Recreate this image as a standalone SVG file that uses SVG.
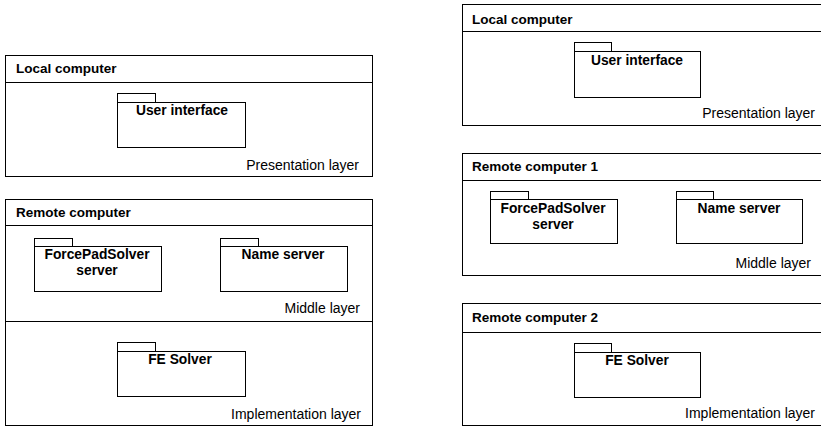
<svg xmlns="http://www.w3.org/2000/svg" width="821" height="427" viewBox="0 0 821 427">
<style>
.box{fill:#fff;stroke:#000;stroke-width:1}
.ln{stroke:#000;stroke-width:1;fill:none}
.pk{fill:#fff;stroke:#000;stroke-width:1}
.title{font-family:"Liberation Sans",Arial,sans-serif;font-weight:bold;font-size:13.5px;fill:#000}
.lbl{font-family:"Liberation Sans",Arial,sans-serif;font-weight:bold;font-size:13.8px;fill:#000;text-anchor:middle}
.layer{font-family:"Liberation Sans",Arial,sans-serif;font-size:14px;fill:#000;text-anchor:end}
</style>
<rect width="821" height="427" fill="#fff"/>
<!-- Left diagram -->
<g id="left-local">
<rect class="box" x="5.5" y="55.5" width="367" height="121"/>
<line class="ln" x1="5.5" y1="82.5" x2="372.5" y2="82.5"/>
<text class="title" x="16" y="73">Local computer</text>
<text class="layer" x="359" y="170">Presentation layer</text>
</g>
<g id="left-ui">
<rect class="pk" x="117.5" y="93.5" width="38" height="9"/>
<rect class="pk" x="117.5" y="102.5" width="128" height="45"/>
<text class="lbl" x="182" y="115">User interface</text>
</g>
<g id="left-remote">
<rect class="box" x="5.5" y="199.5" width="367" height="226"/>
<line class="ln" x1="5.5" y1="225.5" x2="372.5" y2="225.5"/>
<line class="ln" x1="5.5" y1="321.5" x2="372.5" y2="321.5"/>
<text class="title" x="16" y="217">Remote computer</text>
<text class="layer" x="360" y="313">Middle layer</text>
<text class="layer" x="361" y="419">Implementation layer</text>
</g>
<g id="left-forcepad">
<rect class="pk" x="34.5" y="238.5" width="38" height="8"/>
<rect class="pk" x="34.5" y="246.5" width="127" height="45"/>
<text class="lbl" x="97" y="259">ForcePadSolver</text>
<text class="lbl" x="97" y="275">server</text>
</g>
<g id="left-nameserver">
<rect class="pk" x="220.5" y="238.5" width="38" height="8"/>
<rect class="pk" x="220.5" y="246.5" width="127" height="45"/>
<text class="lbl" x="283" y="259">Name server</text>
</g>
<g id="left-fesolver">
<rect class="pk" x="117.5" y="342.5" width="38" height="9"/>
<rect class="pk" x="117.5" y="351.5" width="128" height="45"/>
<text class="lbl" x="180" y="364">FE Solver</text>
</g>
<!-- Right diagram -->
<g id="right-local">
<rect class="box" x="462.5" y="4.5" width="362" height="121"/>
<line class="ln" x1="462.5" y1="31.5" x2="824" y2="31.5"/>
<text class="title" x="472" y="24">Local computer</text>
<text class="layer" x="815" y="118">Presentation layer</text>
</g>
<g id="right-ui">
<rect class="pk" x="574.5" y="42.5" width="37" height="9"/>
<rect class="pk" x="574.5" y="51.5" width="126" height="46"/>
<text class="lbl" x="637" y="65">User interface</text>
</g>
<g id="right-remote1">
<rect class="box" x="462.5" y="153.5" width="362" height="122"/>
<line class="ln" x1="462.5" y1="180.5" x2="824" y2="180.5"/>
<text class="title" x="472" y="171">Remote computer 1</text>
<text class="layer" x="811" y="268">Middle layer</text>
</g>
<g id="right-forcepad">
<rect class="pk" x="490.5" y="191.5" width="38" height="8"/>
<rect class="pk" x="490.5" y="199.5" width="127" height="44"/>
<text class="lbl" x="553" y="213">ForcePadSolver</text>
<text class="lbl" x="553" y="229">server</text>
</g>
<g id="right-nameserver">
<rect class="pk" x="676.5" y="191.5" width="37" height="8"/>
<rect class="pk" x="676.5" y="199.5" width="126" height="44"/>
<text class="lbl" x="739" y="213">Name server</text>
</g>
<g id="right-remote2">
<rect class="box" x="462.5" y="303.5" width="362" height="122"/>
<line class="ln" x1="462.5" y1="332.5" x2="824" y2="332.5"/>
<text class="title" x="472" y="322">Remote computer 2</text>
<text class="layer" x="815" y="418">Implementation layer</text>
</g>
<g id="right-fesolver">
<rect class="pk" x="574.5" y="343.5" width="37" height="9"/>
<rect class="pk" x="574.5" y="352.5" width="126" height="45"/>
<text class="lbl" x="637" y="365">FE Solver</text>
</g>
<g id="connectors"></g>
</svg>
